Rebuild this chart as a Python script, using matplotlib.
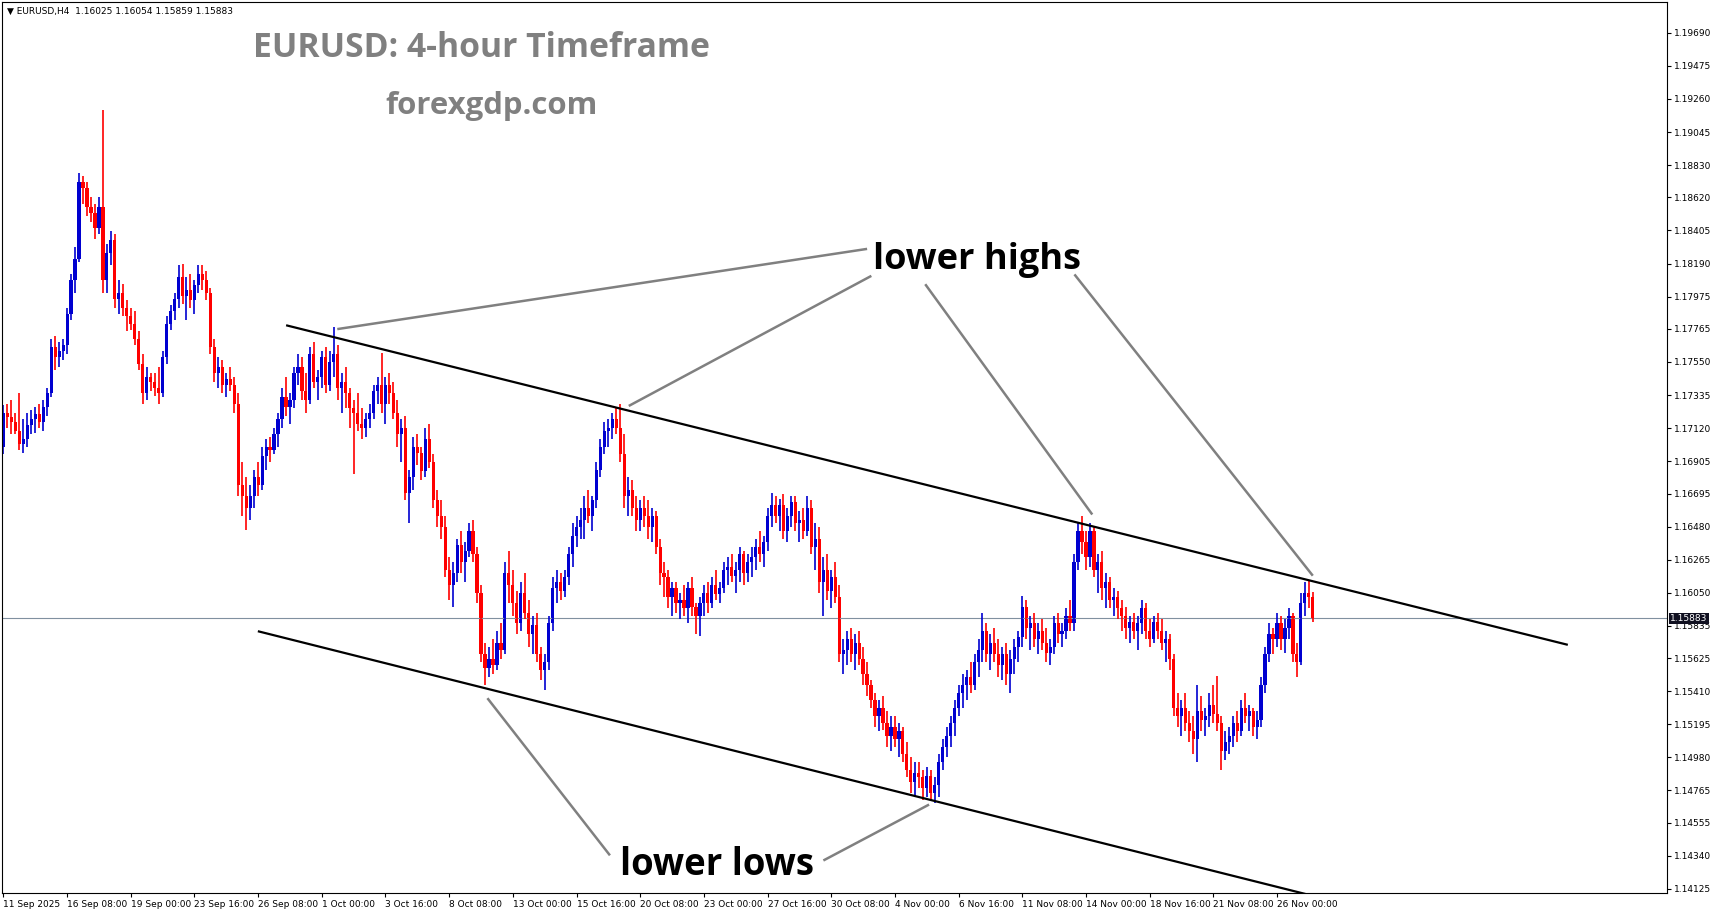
import numpy as np
import matplotlib.pyplot as plt
from matplotlib import transforms

# EURUSD H4, 11 Sep 16:00 .. 27 Nov 12:00 (one line per trading day)
highs = [
    1.1727, 1.1728,
    1.1730, 1.1722, 1.1735, 1.1718, 1.1722, 1.1724,
    1.1726, 1.1728, 1.1730, 1.1738, 1.1770, 1.1772,
    1.1768, 1.1770, 1.1790, 1.1812, 1.1830, 1.1878,
    1.1876, 1.1872, 1.1862, 1.1858, 1.1862, 1.1919,
    1.1832, 1.1840, 1.1838, 1.1808, 1.1806, 1.1795,
    1.1790, 1.1788, 1.1775, 1.1760, 1.1752, 1.1748,
    1.1748, 1.1752, 1.1762, 1.1785, 1.1792, 1.1800,
    1.1818, 1.1819, 1.1810, 1.1812, 1.1808, 1.1818,
    1.1818, 1.1814, 1.1803, 1.1770, 1.1758, 1.1756,
    1.1748, 1.1752, 1.1745, 1.1735, 1.1690, 1.1680,
    1.1675, 1.1685, 1.1690, 1.1700, 1.1705, 1.1706,
    1.1712, 1.1722, 1.1738, 1.1745, 1.1735, 1.1752,
    1.1760, 1.1758, 1.1748, 1.1765, 1.1768, 1.1750,
    1.1762, 1.1765, 1.1762, 1.1778, 1.1766, 1.1748,
    1.1752, 1.1738, 1.1730, 1.1735, 1.1725, 1.1722,
    1.1728, 1.1740, 1.1745, 1.1761, 1.1745, 1.1748,
    1.1742, 1.1730, 1.1718, 1.1720, 1.1685, 1.1706,
    1.1708, 1.1700, 1.1712, 1.1715, 1.1695, 1.1672,
    1.1665, 1.1655, 1.1628, 1.1625, 1.1640, 1.1645,
    1.1638, 1.1650, 1.1652, 1.1635, 1.1610, 1.1572,
    1.1570, 1.1575, 1.1580, 1.1585, 1.1625, 1.1632,
    1.1620, 1.1606, 1.1612, 1.1618, 1.1600, 1.1590,
    1.1592, 1.1570, 1.1565, 1.1590, 1.1615, 1.1620,
    1.1618, 1.1620, 1.1635, 1.1650, 1.1655, 1.1660,
    1.1668, 1.1672, 1.1668, 1.1690, 1.1705, 1.1716,
    1.1718, 1.1722, 1.1725, 1.1728, 1.1708, 1.1680,
    1.1678, 1.1668, 1.1665, 1.1668, 1.1665, 1.1660,
    1.1658, 1.1640, 1.1625, 1.1620, 1.1612, 1.1612,
    1.1605, 1.1610, 1.1612, 1.1615, 1.1598, 1.1602,
    1.1610, 1.1612, 1.1615, 1.1620, 1.1612, 1.1625,
    1.1628, 1.1630, 1.1625, 1.1635, 1.1632, 1.1630,
    1.1635, 1.1640, 1.1645, 1.1642, 1.1660, 1.1670,
    1.1668, 1.1666, 1.1669, 1.1660, 1.1668, 1.1668,
    1.1658, 1.1660, 1.1668, 1.1665, 1.1650, 1.1648,
    1.1628, 1.1630, 1.1620, 1.1625, 1.1610, 1.1575,
    1.1580, 1.1582, 1.1578, 1.1580, 1.1570, 1.1560,
    1.1548, 1.1540, 1.1535, 1.1538, 1.1528, 1.1525,
    1.1525, 1.1520, 1.1518, 1.1508, 1.1498, 1.1495,
    1.1495, 1.1490, 1.1492, 1.1490, 1.1485, 1.1500,
    1.1510, 1.1518, 1.1525, 1.1535, 1.1545, 1.1552,
    1.1555, 1.1560, 1.1565, 1.1575, 1.1592, 1.1585,
    1.1578, 1.1582, 1.1575, 1.1570, 1.1572, 1.1568,
    1.1575, 1.1580, 1.1603, 1.1600, 1.1590, 1.1592,
    1.1585, 1.1588, 1.1582, 1.1575, 1.1590, 1.1592,
    1.1585, 1.1595, 1.1600, 1.1630, 1.1650, 1.1655,
    1.1645, 1.1650, 1.1648, 1.1630, 1.1632, 1.1618,
    1.1615, 1.1608, 1.1606, 1.1600, 1.1596, 1.1590,
    1.1592, 1.1590, 1.1600, 1.1598, 1.1588, 1.1590,
    1.1592, 1.1588, 1.1580, 1.1578, 1.1565, 1.1540,
    1.1535, 1.1540, 1.1528, 1.1525, 1.1545, 1.1538,
    1.1530, 1.1540, 1.1545, 1.1551, 1.1525, 1.1515,
    1.1518, 1.1525, 1.1528, 1.1535, 1.1540, 1.1532,
    1.1530, 1.1528, 1.1550, 1.1570, 1.1585, 1.1582,
    1.1592, 1.1590, 1.1588, 1.1595, 1.1592, 1.1572,
    1.1605, 1.1612, 1.1613, 1.16054,
]
lows = [
    1.1695, 1.1712,
    1.1708, 1.1708, 1.1698, 1.1696, 1.1700, 1.1708,
    1.1709, 1.1712, 1.1710, 1.1720, 1.1732, 1.1750,
    1.1752, 1.1756, 1.1760, 1.1782, 1.1800, 1.1820,
    1.1858, 1.1850, 1.1846, 1.1835, 1.1838, 1.1800,
    1.1800, 1.1818, 1.1790, 1.1786, 1.1785, 1.1775,
    1.1776, 1.1766, 1.1750, 1.1728, 1.1730, 1.1736,
    1.1733, 1.1728, 1.1732, 1.1754, 1.1776, 1.1782,
    1.1790, 1.1793, 1.1782, 1.1790, 1.1786, 1.1800,
    1.1802, 1.1795, 1.1760, 1.1742, 1.1738, 1.1735,
    1.1732, 1.1736, 1.1722, 1.1668, 1.1655, 1.1646,
    1.1652, 1.1660, 1.1668, 1.1672, 1.1685, 1.1690,
    1.1695, 1.1700, 1.1712, 1.1720, 1.1715, 1.1725,
    1.1740, 1.1730, 1.1722, 1.1728, 1.1738, 1.1730,
    1.1738, 1.1735, 1.1736, 1.1745, 1.1730, 1.1722,
    1.1725, 1.1712, 1.1682, 1.1710, 1.1705, 1.1706,
    1.1712, 1.1718, 1.1728, 1.1722, 1.1715, 1.1728,
    1.1718, 1.1700, 1.1690, 1.1665, 1.1650, 1.1672,
    1.1688, 1.1678, 1.1680, 1.1686, 1.1660, 1.1648,
    1.1640, 1.1615, 1.1600, 1.1596, 1.1612, 1.1618,
    1.1612, 1.1628, 1.1625, 1.1598, 1.1560, 1.1545,
    1.1550, 1.1552, 1.1555, 1.1562, 1.1565, 1.1598,
    1.1590, 1.1578, 1.1580, 1.1588, 1.1570, 1.1565,
    1.1560, 1.1548, 1.1542, 1.1555, 1.1580, 1.1598,
    1.1600, 1.1602, 1.1610, 1.1622, 1.1635, 1.1640,
    1.1640, 1.1650, 1.1645, 1.1660, 1.1680, 1.1695,
    1.1700, 1.1705, 1.1708, 1.1690, 1.1660, 1.1655,
    1.1655, 1.1645, 1.1645, 1.1648, 1.1640, 1.1638,
    1.1630, 1.1610, 1.1602, 1.1595, 1.1590, 1.1592,
    1.1588, 1.1590, 1.1585, 1.1590, 1.1578, 1.1577,
    1.1590, 1.1592, 1.1595, 1.1600, 1.1598, 1.1605,
    1.1610, 1.1612, 1.1605, 1.1612, 1.1610, 1.1612,
    1.1615, 1.1620, 1.1625, 1.1622, 1.1632, 1.1648,
    1.1650, 1.1645, 1.1640, 1.1638, 1.1648, 1.1645,
    1.1638, 1.1640, 1.1642, 1.1630, 1.1620, 1.1605,
    1.1590, 1.1600, 1.1595, 1.1598, 1.1560, 1.1552,
    1.1558, 1.1560, 1.1555, 1.1558, 1.1545, 1.1538,
    1.1530, 1.1518, 1.1515, 1.1516, 1.1505, 1.1502,
    1.1505, 1.1498, 1.1495, 1.1485, 1.1475, 1.1472,
    1.1478, 1.1470, 1.1472, 1.1470, 1.1468, 1.1472,
    1.1490, 1.1498, 1.1505, 1.1512, 1.1525, 1.1530,
    1.1535, 1.1540, 1.1542, 1.1550, 1.1560, 1.1560,
    1.1555, 1.1560, 1.1550, 1.1548, 1.1545, 1.1540,
    1.1552, 1.1560, 1.1570, 1.1575, 1.1568, 1.1570,
    1.1565, 1.1568, 1.1560, 1.1558, 1.1565, 1.1572,
    1.1570, 1.1575, 1.1580, 1.1580, 1.1620, 1.1630,
    1.1620, 1.1622, 1.1615, 1.1605, 1.1600, 1.1595,
    1.1595, 1.1590, 1.1588, 1.1580, 1.1575, 1.1572,
    1.1575, 1.1568, 1.1578, 1.1575, 1.1570, 1.1572,
    1.1575, 1.1568, 1.1560, 1.1555, 1.1525, 1.1518,
    1.1512, 1.1515, 1.1508, 1.1500, 1.1495, 1.1515,
    1.1512, 1.1518, 1.1520, 1.1515, 1.1490, 1.1496,
    1.1500, 1.1505, 1.1508, 1.1512, 1.1520, 1.1515,
    1.1512, 1.1510, 1.1518, 1.1540, 1.1560, 1.1565,
    1.1570, 1.1568, 1.1566, 1.1575, 1.1560, 1.1550,
    1.1558, 1.1590, 1.1595, 1.15859,
]
closes = [
    1.1722, 1.1719,
    1.1716, 1.1710, 1.1702, 1.1705, 1.1714, 1.1718,
    1.1721, 1.1716, 1.1726, 1.1735, 1.1765, 1.1758,
    1.1762, 1.1766, 1.1786, 1.1808, 1.1822, 1.1872,
    1.1868, 1.1856, 1.1852, 1.1842, 1.1856, 1.1808,
    1.1826, 1.1834, 1.1796, 1.1800, 1.1790, 1.1785,
    1.1780, 1.1770, 1.1754, 1.1735, 1.1745, 1.1742,
    1.1738, 1.1735, 1.1758, 1.1780, 1.1788, 1.1796,
    1.1810, 1.1798, 1.1802, 1.1795, 1.1805, 1.1812,
    1.1808, 1.1800, 1.1765, 1.1748, 1.1752, 1.1740,
    1.1744, 1.1740, 1.1728, 1.1675, 1.1668, 1.1660,
    1.1668, 1.1680, 1.1675, 1.1694, 1.1700, 1.1698,
    1.1708, 1.1718, 1.1732, 1.1726, 1.1730, 1.1748,
    1.1752, 1.1736, 1.1730, 1.1760, 1.1742, 1.1745,
    1.1758, 1.1740, 1.1755, 1.1760, 1.1738, 1.1742,
    1.1735, 1.1725, 1.1722, 1.1715, 1.1712, 1.1718,
    1.1722, 1.1736, 1.1740, 1.1728, 1.1740, 1.1735,
    1.1722, 1.1708, 1.1712, 1.1670, 1.1680, 1.1700,
    1.1696, 1.1684, 1.1705, 1.1690, 1.1665, 1.1655,
    1.1648, 1.1620, 1.1610, 1.1618, 1.1636, 1.1625,
    1.1632, 1.1645, 1.1630, 1.1605, 1.1565, 1.1556,
    1.1562, 1.1558, 1.1572, 1.1568, 1.1618, 1.1610,
    1.1598, 1.1585, 1.1605, 1.1592, 1.1578, 1.1584,
    1.1565, 1.1555, 1.1560, 1.1585, 1.1608, 1.1612,
    1.1606, 1.1615, 1.1630, 1.1642, 1.1648, 1.1652,
    1.1660, 1.1655, 1.1665, 1.1685, 1.1700, 1.1710,
    1.1712, 1.1718, 1.1712, 1.1695, 1.1668, 1.1672,
    1.1660, 1.1652, 1.1660, 1.1655, 1.1648, 1.1655,
    1.1635, 1.1618, 1.1615, 1.1602, 1.1608, 1.1598,
    1.1600, 1.1595, 1.1608, 1.1596, 1.1590, 1.1598,
    1.1605, 1.1598, 1.1610, 1.1604, 1.1608, 1.1620,
    1.1622, 1.1616, 1.1620, 1.1630, 1.1618, 1.1625,
    1.1628, 1.1635, 1.1630, 1.1638, 1.1655, 1.1662,
    1.1655, 1.1662, 1.1645, 1.1655, 1.1664, 1.1650,
    1.1652, 1.1645, 1.1660, 1.1635, 1.1640, 1.1612,
    1.1620, 1.1606, 1.1615, 1.1602, 1.1565, 1.1568,
    1.1575, 1.1565, 1.1572, 1.1562, 1.1552, 1.1545,
    1.1535, 1.1525, 1.1530, 1.1520, 1.1512, 1.1518,
    1.1510, 1.1515, 1.1500, 1.1490, 1.1482, 1.1488,
    1.1485, 1.1478, 1.1486, 1.1475, 1.1480, 1.1495,
    1.1505, 1.1512, 1.1520, 1.1530, 1.1540, 1.1545,
    1.1550, 1.1545, 1.1560, 1.1568, 1.1580, 1.1565,
    1.1572, 1.1565, 1.1558, 1.1565, 1.1552, 1.1562,
    1.1570, 1.1576, 1.1596, 1.1582, 1.1585, 1.1575,
    1.1580, 1.1572, 1.1566, 1.1570, 1.1585, 1.1578,
    1.1580, 1.1590, 1.1585, 1.1625, 1.1645, 1.1638,
    1.1628, 1.1645, 1.1620, 1.1625, 1.1608, 1.1612,
    1.1600, 1.1602, 1.1595, 1.1590, 1.1582, 1.1586,
    1.1580, 1.1585, 1.1595, 1.1580, 1.1575, 1.1586,
    1.1580, 1.1572, 1.1575, 1.1562, 1.1530, 1.1525,
    1.1530, 1.1520, 1.1515, 1.1510, 1.1528, 1.1522,
    1.1525, 1.1532, 1.1526, 1.1520, 1.1502, 1.1508,
    1.1512, 1.1520, 1.1515, 1.1530, 1.1525, 1.1528,
    1.1518, 1.1522, 1.1545, 1.1565, 1.1578, 1.1575,
    1.1585, 1.1575, 1.1582, 1.1590, 1.1565, 1.1560,
    1.1598, 1.1605, 1.16025, 1.15883,
]
first_open = 1.1700

date_bars = [0, 16, 32, 48, 64, 80, 96, 112, 128, 144, 160, 176, 192, 208,
             224, 240, 256, 272, 288, 304, 320]
date_labels = ["11 Sep 2025", "16 Sep 08:00", "19 Sep 00:00", "23 Sep 16:00",
               "26 Sep 08:00", "1 Oct 00:00", "3 Oct 16:00", "8 Oct 08:00",
               "13 Oct 00:00", "15 Oct 16:00", "20 Oct 08:00", "23 Oct 00:00",
               "27 Oct 16:00", "30 Oct 08:00", "4 Nov 00:00", "6 Nov 16:00",
               "11 Nov 08:00", "14 Nov 00:00", "18 Nov 16:00", "21 Nov 08:00",
               "26 Nov 00:00"]
price_ticks = [1.19690, 1.19475, 1.19260, 1.19045, 1.18830, 1.18620, 1.18405,
               1.18190, 1.17975, 1.17765, 1.17550, 1.17335, 1.17120, 1.16905,
               1.16695, 1.16480, 1.16265, 1.16050, 1.15835, 1.15625, 1.15410,
               1.15195, 1.14980, 1.14765, 1.14555, 1.14340, 1.14125]
last_price = 1.15883

# channel lines and arrows (bar index, price)
upper_channel = [(71.3, 1.17787), (392.8, 1.15713)]
lower_channel = [(64.2, 1.15798), (326.9, 1.14093)]
pointers = [
    [(84.2, 1.17765), (216.7, 1.18284)],
    [(157.4, 1.17268), (217.8, 1.18106)],
    [(231.8, 1.18049), (273.4, 1.16565)],
    [(269.3, 1.18113), (328.8, 1.16167)],
    [(121.8, 1.15358), (152.2, 1.14349)],
    [(206.3, 1.14313), (232.3, 1.14669)],
]

o = np.array([first_open] + closes[:-1])
h = np.array(highs)
l = np.array(lows)
c = np.array(closes)
x = np.arange(len(c))
up = c >= o
cols = np.where(up, '#0000d0', '#ff0000')

fig = plt.figure(figsize=(17.14, 9.15), dpi=100)
ax = fig.add_axes([0.0013, 0.0239, 0.9713, 0.9737])

lo = np.minimum(l, np.minimum(o, c))
hi = np.maximum(h, np.maximum(o, c))
ax.vlines(x, lo, hi, colors=cols, linewidth=1.2)
body = np.maximum(np.abs(c - o), 0.00005)
ax.bar(x, body, bottom=np.minimum(o, c), width=0.8, color=cols, linewidth=0)

# current price line
ax.axhline(last_price, color='#8090a0', linewidth=0.8, zorder=1)

for seg in (upper_channel, lower_channel):
    ax.plot([p[0] for p in seg], [p[1] for p in seg], color='black', linewidth=1.6)
for seg in pointers:
    ax.plot([p[0] for p in seg], [p[1] for p in seg], color='#808080', linewidth=1.8)

ax.set_xlim(-0.3, 418.0)
ax.set_ylim(1.14097, 1.19889)

ax.yaxis.tick_right()
ax.set_yticks(price_ticks)
ax.set_yticklabels([f"{p:.5f}" for p in price_ticks])
ax.set_xticks(date_bars)
ax.set_xticklabels(date_labels)
ax.tick_params(axis='both', labelsize=6.5, length=3, width=0.8, pad=2)
for lab in ax.get_xticklabels():
    lab.set_horizontalalignment('left')
for sp in ax.spines.values():
    sp.set_linewidth(0.8)

trans = transforms.blended_transform_factory(ax.transAxes, ax.transData)
ax.text(1.002, last_price, f"{last_price:.5f}", transform=trans, fontsize=6.5,
        color='white', ha='left', va='center', zorder=5,
        bbox=dict(boxstyle='square,pad=0.15', facecolor='#101020', edgecolor='none'))

ax.text(0.003, 0.995, "\u25bc EURUSD,H4  1.16025 1.16054 1.15859 1.15883",
        transform=ax.transAxes, fontsize=6.5, ha='left', va='top')

fig.text(0.281, 0.948, "EURUSD: 4-hour Timeframe", fontsize=24.3, fontweight='bold',
         family='Open Sans', color='#808080', ha='center', va='center')
fig.text(0.287, 0.884, "forexgdp.com", fontsize=22.4, fontweight='bold',
         family='Open Sans', color='#808080', ha='center', va='center')
fig.text(0.5096, 0.716, "lower highs", fontsize=26, fontweight='bold',
         family='Open Sans', color='black', ha='left', va='center')
fig.text(0.3618, 0.055, "lower lows", fontsize=26.3, fontweight='bold',
         family='Open Sans', color='black', ha='left', va='center')

fig.savefig("out.png", dpi=100)
